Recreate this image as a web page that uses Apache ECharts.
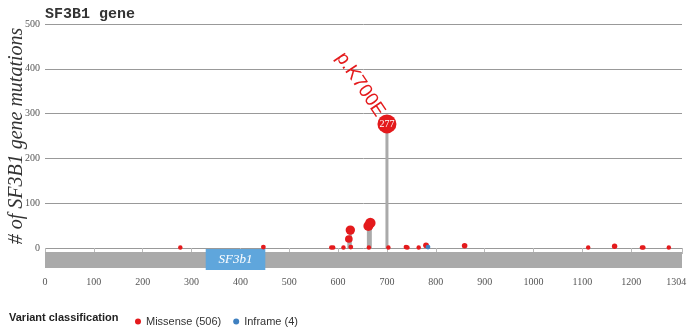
<!DOCTYPE html>
<html>
<head>
<meta charset="utf-8">
<script src="https://cdn.jsdelivr.net/npm/echarts@6/dist/echarts.min.js"></script>
<style>
  html, body { margin: 0; padding: 0; background: #fff; }
  #chart { width: 688px; height: 328px; }
</style>
</head>
<body>
<div id="chart"></div>
<script>
// protein length and domains
let proteinLength = 1304;
let domains = [[329, 451, 'SF3b1']];

// mutations: [amino acid position, count]
let missense = [
    [277, 1], [447, 2], [586, 1], [590, 1], [611, 1], [622, 20], [625, 40], [626, 2],
    [662, 49], [663, 1], [666, 56], [700, 277], [703, 1], [739, 2], [742, 1], [765, 1],
    [780, 6], [859, 5], [1112, 1], [1166, 4], [1222, 1], [1225, 1], [1277, 1]
];
let inframe = [[784, 2]];
let hotspots = [[700, 277, 'p.K700E']];

let yTicks = [0, 100, 200, 300, 400, 500];
let xTicks = [0, 100, 200, 300, 400, 500, 600, 700, 800, 900, 1000, 1100, 1200, 1304];

let red = '#e41a1c';
let blue = '#3f80c0';
let grey = '#aaaaaa';
let serif = 'Liberation Serif';

let dotSize = val => 3.5 + Math.sqrt(val[1]) * 0.93;

let stems = missense.concat(inframe);

let option = {
    animation: false,
    title: [
        {
            text: 'SF3B1 gene',
            left: 40,
            top: 2,
            textStyle: { fontFamily: 'Liberation Mono', fontWeight: 'bold', fontSize: 15, color: '#333' }
        },
        {
            text: 'Variant classification',
            left: 4,
            top: 307,
            textStyle: { fontFamily: 'Liberation Sans', fontWeight: 'bold', fontSize: 11, color: '#222' }
        }
    ],
    legend: {
        left: 130,
        top: 311,
        icon: 'circle',
        itemWidth: 6,
        itemHeight: 6,
        itemGap: 12,
        data: ['Missense (506)', 'Inframe (4)'],
        textStyle: { fontFamily: 'Liberation Sans', fontSize: 11, color: '#333' }
    },
    grid: { left: 45, right: 6, top: 24, bottom: 80, containLabel: false, outerBoundsMode: 'none' },
    xAxis: {
        type: 'value',
        min: 0,
        max: proteinLength,
        offset: 21,
        axisLine: { show: false },
        splitLine: { show: false },
        axisTick: { customValues: xTicks, length: 6, lineStyle: { color: '#bbb' } },
        axisLabel: {
            customValues: xTicks,
            margin: 8,
            fontFamily: serif,
            fontSize: 10,
            color: '#555',
            alignMaxLabel: 'center',
            hideOverlap: false,
            formatter: v => v === proteinLength ? v + ' aa' : String(v)
        }
    },
    yAxis: {
        type: 'value',
        min: yTicks[0],
        max: yTicks[yTicks.length - 1],
        interval: 100,
        name: '# of SF3B1 gene mutations',
        nameLocation: 'middle',
        nameRotate: 90,
        nameGap: 18,
        nameMoveOverlap: false,
        nameTextStyle: { fontFamily: serif, fontStyle: 'italic', fontSize: 20, color: '#333' },
        axisLine: { show: false },
        axisTick: { show: false },
        axisLabel: { fontFamily: serif, fontSize: 10, color: '#555', margin: 5 },
        splitLine: { lineStyle: { color: '#999', width: 1 } }
    },
    series: [
        {
            // protein backbone
            type: 'custom',
            silent: true,
            data: [[0, proteinLength]],
            encode: { x: [0, 1] },
            renderItem: (params, api) => {
                let a = api.coord([api.value(0), 0]);
                let b = api.coord([api.value(1), 0]);
                return {
                    type: 'rect',
                    shape: { x: a[0], y: a[1] + 4, width: b[0] - a[0], height: 16 },
                    style: { fill: grey }
                };
            }
        },
        {
            // domains
            type: 'custom',
            silent: true,
            data: domains,
            encode: { x: [0, 1] },
            renderItem: (params, api) => {
                let a = api.coord([api.value(0), 0]);
                let b = api.coord([api.value(1), 0]);
                return {
                    type: 'rect',
                    shape: { x: a[0], y: a[1] + 1, width: b[0] - a[0], height: 21 },
                    style: { fill: '#5fa6dc' },
                    textContent: {
                        style: {
                            text: domains[params.dataIndex][2],
                            fill: '#fff',
                            fontFamily: serif,
                            fontStyle: 'italic',
                            fontSize: 13
                        }
                    },
                    textConfig: { position: 'inside' }
                };
            }
        },
        {
            // lollipop stems
            type: 'custom',
            silent: true,
            data: stems,
            renderItem: (params, api) => {
                let a = api.coord([api.value(0), 0]);
                let b = api.coord([api.value(0), api.value(1)]);
                return {
                    type: 'line',
                    shape: { x1: a[0], y1: a[1], x2: b[0], y2: b[1] },
                    style: { stroke: grey, lineWidth: 3 }
                };
            }
        },
        {
            name: 'Missense (506)',
            type: 'scatter',
            data: missense,
            symbolSize: dotSize,
            itemStyle: { color: red, opacity: 1 },
            label: {
                show: true,
                position: 'inside',
                color: '#fff',
                fontFamily: serif,
                fontSize: 10,
                formatter: p => p.value[1] >= 100 ? String(p.value[1]) : ''
            }
        },
        {
            name: 'Inframe (4)',
            type: 'scatter',
            data: inframe,
            symbolSize: dotSize,
            itemStyle: { color: blue, opacity: 1 }
        },
        {
            name: 'hotspot',
            type: 'scatter',
            silent: true,
            data: hotspots,
            symbolSize: 0,
            itemStyle: { color: red, opacity: 1 },
            label: {
                show: true,
                position: 'inside',
                rotate: -56,
                align: 'right',
                verticalAlign: 'middle',
                offset: [-11, 0],
                color: red,
                opacity: 1,
                fontFamily: 'Liberation Sans',
                fontSize: 19,
                formatter: p => p.value[2]
            }
        }
    ]
};

let myChart = echarts.init(document.getElementById('chart'));
myChart.setOption(option);
</script>
</body>
</html>
